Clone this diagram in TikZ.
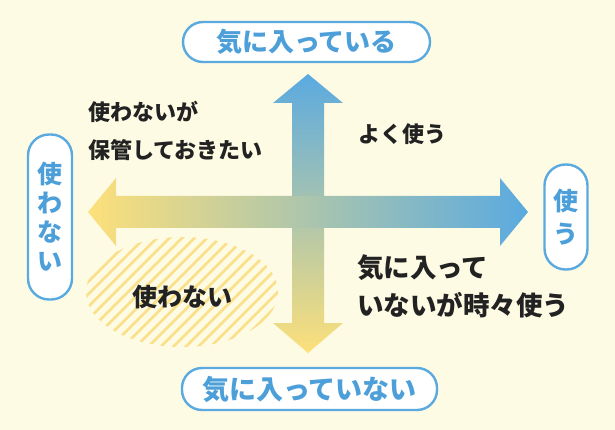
\documentclass[tikz,border=0pt]{standalone}
\usepackage{fontspec}
\setmainfont{Noto Sans CJK JP}
\definecolor{bgc}{HTML}{FEFBE4}
\definecolor{blu}{HTML}{5AAAE0}
\definecolor{blutxt}{HTML}{4C9FD8}
\definecolor{yel}{HTML}{FDE07A}
\definecolor{hatch}{HTML}{FBE08A}
\definecolor{dark}{HTML}{222222}
\tikzset{
  pill/.style={draw=blu, line width=2.4pt, fill=white, rounded corners=20pt, text=blutxt, font=\fontsize{26}{30}\selectfont\bfseries, inner sep=0pt},
  dtxt/.style={text=dark, font=\fontsize{22}{38}\selectfont\bfseries, inner sep=0pt, align=left},
}
\begin{document}
\begin{tikzpicture}[x=1pt,y=-1pt]
\fill[bgc] (0,0) rectangle (615,430);
\useasboundingbox (0,0) rectangle (615,430);
% hatched blob
\begin{scope}
\clip (182,292) ellipse [x radius=96, y radius=55];
\foreach \i in {-20,...,30} {
  \draw[hatch, line width=2.6pt] ({60+\i*12.5},360) -- ({60+\i*12.5+140},220);
}
\end{scope}
% vertical arrow
\shade[top color=blu, bottom color=yel]
  (292,103) -- (273,103) -- (308,74) -- (343,103) -- (324,103) -- (324,323) -- (343,323) -- (308,353) -- (273,323) -- (292,323) -- cycle;
% horizontal arrow
\shade[left color=yel, right color=blu]
  (116,196) -- (116,178) -- (88,212) -- (116,246) -- (116,228) -- (500,228) -- (500,246) -- (528,212) -- (500,178) -- (500,196) -- cycle;
% pills
\node[pill, minimum width=247pt, minimum height=40pt] (top) at (306.5,42) {気に入っている};
\node[pill, minimum width=255pt, minimum height=42pt, font=\fontsize{27}{30}\selectfont\bfseries] (bot) at (309.5,389) {気に入っていない};
\node[pill, minimum width=44pt, minimum height=165pt, rounded corners=21pt, align=center, font=\fontsize{25}{29}\selectfont\bfseries] (left) at (50,217) {使\\わ\\な\\い};
\node[pill, minimum width=43pt, minimum height=105pt, rounded corners=21pt, align=center, font=\fontsize{25}{33}\selectfont\bfseries] (right) at (566,217) {使\\う};
% dark labels
\node[dtxt, anchor=north west] (tl) at (88,101) {使わないが\\保管しておきたい};
\node[dtxt] (tr) at (402,134) {よく使う};
\node[dtxt, anchor=north west, font=\fontsize{26.5}{38}\selectfont\bfseries] (br) at (357,254) {気に入って\\いないが時々使う};
\node[dtxt, font=\fontsize{25}{30}\selectfont\bfseries] (bl) at (182,297) {使わない};
\end{tikzpicture}
\end{document}
